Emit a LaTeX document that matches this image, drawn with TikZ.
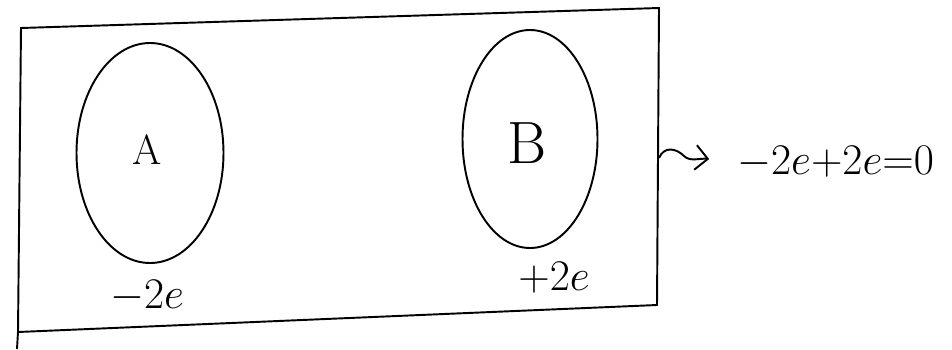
\documentclass[tikz,border=0pt]{standalone}
\usetikzlibrary{shapes.geometric,arrows.meta}
\begin{document}
\begin{tikzpicture}[x=0.02cm,y=-0.02cm,
  pen/.style={draw=black, line width=1.1pt},
  body/.style={pen, ellipse, inner sep=0pt},
  lbl/.style={font=\fontsize{24}{28}\selectfont, inner sep=1pt},
  eqs/.style={font=\fontsize{28}{32}\selectfont, inner sep=1pt},
  big/.style={font=\fontsize{34}{38}\selectfont, inner sep=1pt}]
\useasboundingbox[fill=white] (0,0) rectangle (952,349);
% enclosing box (hand-drawn, slightly skewed)
\coordinate (tl) at (21,28);
\coordinate (tr) at (659,8);
\coordinate (br) at (657,305);
\coordinate (bl) at (18,332);
\draw[pen] (bl) -- (tl) -- (tr) -- (br) -- (bl);
\draw[pen] (bl) -- (17,349);
% bodies
\node[body, minimum width=147*0.02cm, minimum height=220*0.02cm] (A) at (150,153) {};
\node[body, minimum width=135*0.02cm, minimum height=218*0.02cm] (B) at (530,139) {};
\node[lbl] (la) at (147,150) {A};
\node[big] (lb) at (527,143) {B};
\node[lbl] (qa) at (147,296) {$-2e$};
\node[lbl] (qb) at (554,278) {$+2e$};
% result
\node[eqs, anchor=west] (eq) at (735,162) {$-2e{+}2e{=}0$};
\coordinate (start) at (659,158);
\draw[pen, -{Straight Barb[length=7pt]}, shorten >=26*0.02cm] (start) .. controls (664,146) and (676,148) .. (684,156) .. controls (690,162) and (700,158) .. (eq.west);
\end{tikzpicture}
\end{document}
